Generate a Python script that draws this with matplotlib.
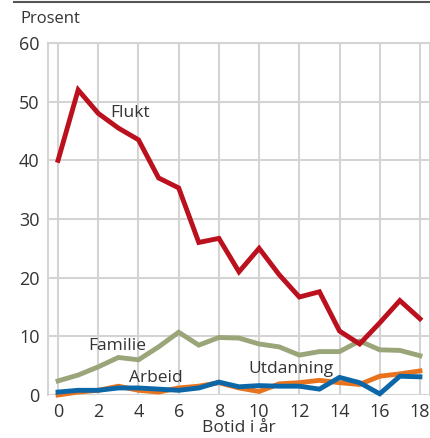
import numpy as np
import matplotlib.pyplot as plt
from matplotlib.lines import Line2D

plt.rcParams['font.family'] = ['Open Sans', 'DejaVu Sans']

years = list(range(19))
flukt = [40, 52, 48, 45.5, 43.5, 37, 35.3, 26, 26.7, 21, 25, 20.5, 16.7, 17.6, 10.9, 8.7, 12.3, 16.1, 13]
familie = [2.4, 3.4, 4.8, 6.4, 6.0, 8.2, 10.7, 8.5, 9.8, 9.7, 8.7, 8.2, 6.8, 7.4, 7.4, 9.2, 7.7, 7.6, 6.7]
utdanning = [0.0, 0.5, 0.8, 1.5, 0.8, 0.5, 1.2, 1.5, 2.1, 1.2, 0.6, 1.9, 2.1, 2.5, 2.1, 1.8, 3.2, 3.6, 4.1]
arbeid = [0.5, 0.8, 0.8, 1.2, 1.2, 1.0, 0.8, 1.2, 2.2, 1.4, 1.6, 1.5, 1.5, 1.0, 3.0, 2.1, 0.2, 3.2, 3.1]

fig = plt.figure(figsize=(4.31, 4.38), dpi=100)
ax = fig.add_axes([48 / 431, 1 - 395 / 438, 382 / 431, 352 / 438])

grid_c = '#d4d4d4'
text_c = '#333333'

ax.plot(years, utdanning, color='#e8731e', lw=3.5, solid_joinstyle='miter', clip_on=False, zorder=3)
ax.plot(years, arbeid, color='#0b67a8', lw=3.5, solid_joinstyle='miter', clip_on=False, zorder=4)
ax.plot(years, familie, color='#9aa57a', lw=3.5, solid_joinstyle='miter', zorder=3)
ax.plot(years, flukt, color='#bb101e', lw=3.5, solid_joinstyle='miter', zorder=5)

ax.set_xlim(-0.5, 18.5)
ax.set_ylim(0, 60)
ax.set_xticks(range(0, 19, 2))
ax.set_yticks(range(0, 61, 10))
ax.grid(True, color=grid_c, lw=1.5)
ax.set_axisbelow(True)
for s in ['left', 'top', 'right']:
    ax.spines[s].set_color(grid_c)
    ax.spines[s].set_linewidth(1.5)
ax.spines['bottom'].set_visible(False)
ax.tick_params(length=0, labelsize=13, colors=text_c, pad=6)

ax.text(2.6, 48, 'Flukt', fontsize=12.5, color=text_c, va='center')
ax.text(1.5, 8.4, 'Familie', fontsize=12.5, color=text_c, va='center')
ax.text(3.55, 2.9, 'Arbeid', fontsize=12.5, color=text_c, va='center')
ax.text(9.45, 4.5, 'Utdanning', fontsize=12.5, color=text_c, va='center')

ax.set_xlabel('Botid i år', fontsize=12.5, color=text_c, labelpad=-1)
fig.text(20 / 431, 1 - 19 / 438, 'Prosent', fontsize=12, color=text_c, va='center')
fig.add_artist(Line2D([14 / 431, 1], [1 - 1.5 / 438, 1 - 1.5 / 438], color='#555555', lw=1.5))

fig.savefig('out.png', dpi=100)
